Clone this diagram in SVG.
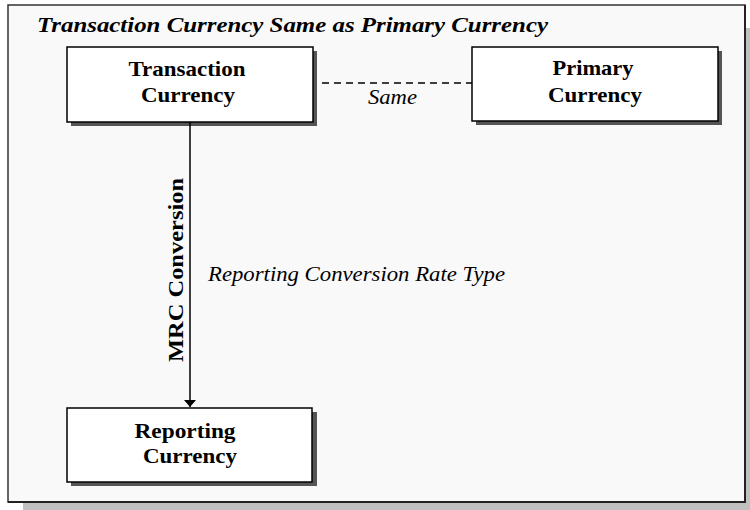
<svg xmlns="http://www.w3.org/2000/svg" width="750" height="510" viewBox="0 0 750 510">
  <style>
    .node-text { font-family: "Liberation Serif", serif; font-weight: bold; font-size: 21px; fill: #000; text-anchor: middle; }
    .box { fill: #fff; stroke: #000; stroke-width: 1.5; }
    .shadow { fill: #555; }
    .label { font-family: "Liberation Serif", serif; font-style: italic; font-size: 21px; fill: #000; }
  </style>
  <defs>
    <marker id="arrow" viewBox="0 0 7 12" refX="7" refY="6" markerWidth="7" markerHeight="12" markerUnits="userSpaceOnUse" orient="auto">
      <path d="M0,0 L7,6 L0,12 z" fill="#000"/>
    </marker>
  </defs>

  <!-- page background, drop shadow and frame -->
  <rect x="0" y="0" width="750" height="510" fill="#fff"/>
  <rect x="23" y="502" width="727" height="8" fill="#c0c0c0"/>
  <rect x="745" y="28" width="5" height="482" fill="#c0c0c0"/>
  <rect x="8" y="5" width="737" height="497" fill="#f9f9f9" stroke="#333" stroke-width="1.5"/>
  <path d="M745,5 V502 H8" fill="none" stroke="#222" stroke-width="2"/>

  <text x="37" y="32" font-family="Liberation Serif, serif" font-weight="bold" font-style="italic" font-size="21" textLength="511" lengthAdjust="spacingAndGlyphs">Transaction Currency Same as Primary Currency</text>

  <g id="transaction-currency">
    <rect class="shadow" x="71" y="51" width="246" height="75"/>
    <rect class="box" x="67" y="47" width="246" height="75"/>
    <text class="node-text" x="187" y="76" textLength="117" lengthAdjust="spacingAndGlyphs">Transaction</text>
    <text class="node-text" x="188" y="102" textLength="94" lengthAdjust="spacingAndGlyphs">Currency</text>
  </g>

  <g id="primary-currency">
    <rect class="shadow" x="476" y="51" width="246" height="74"/>
    <rect class="box" x="472" y="47" width="246" height="74"/>
    <text class="node-text" x="593" y="75" textLength="81" lengthAdjust="spacingAndGlyphs">Primary</text>
    <text class="node-text" x="595" y="102" textLength="94" lengthAdjust="spacingAndGlyphs">Currency</text>
  </g>

  <g id="reporting-currency">
    <rect class="shadow" x="71" y="412" width="246" height="74"/>
    <rect class="box" x="67" y="408" width="245" height="74"/>
    <text class="node-text" x="185" y="438" textLength="101" lengthAdjust="spacingAndGlyphs">Reporting</text>
    <text class="node-text" x="190" y="463" textLength="94" lengthAdjust="spacingAndGlyphs">Currency</text>
  </g>

  <g id="connectors">
    <line x1="322" y1="83" x2="472" y2="83" stroke="#000" stroke-width="1.3" stroke-dasharray="7,5"/>
    <text class="label" x="368" y="104" font-size="19" textLength="49" lengthAdjust="spacingAndGlyphs">Same</text>
    <line x1="190" y1="122" x2="190" y2="407" stroke="#000" stroke-width="1.5" marker-end="url(#arrow)"/>
    <text class="node-text" transform="translate(183,270) rotate(-90)" textLength="184" lengthAdjust="spacingAndGlyphs">MRC Conversion</text>
    <text class="label" x="208" y="281" textLength="297" lengthAdjust="spacingAndGlyphs">Reporting Conversion Rate Type</text>
  </g>
</svg>
